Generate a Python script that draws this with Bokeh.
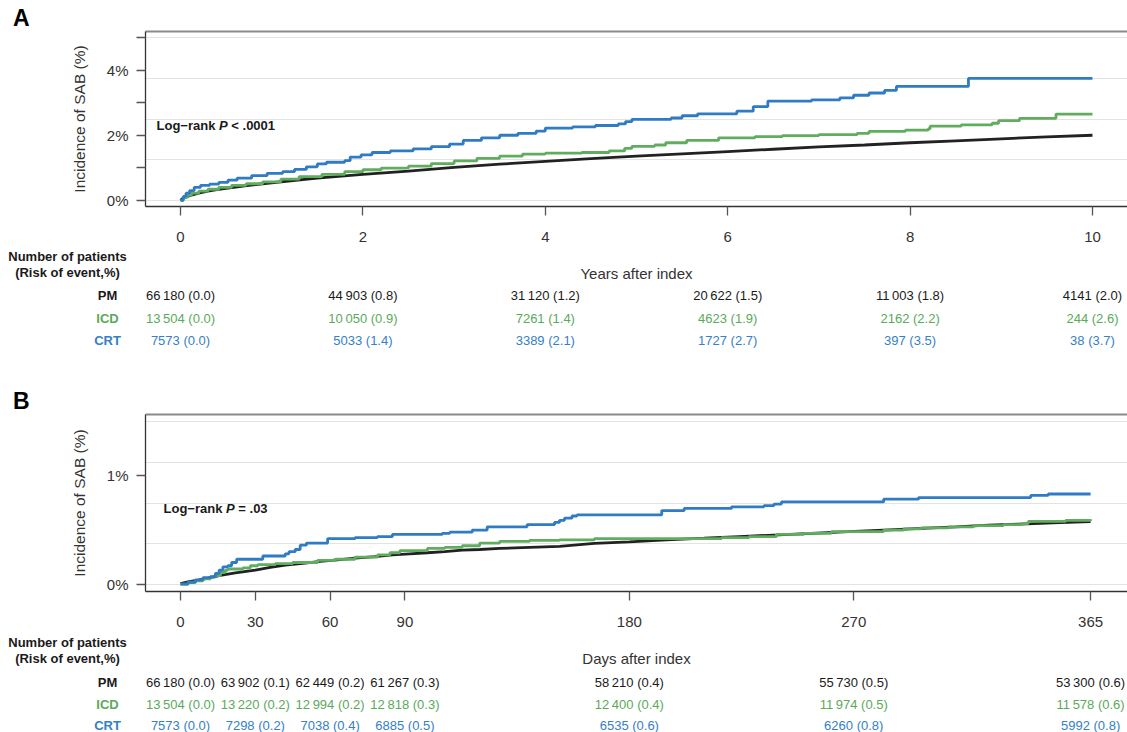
from bokeh.plotting import figure
from bokeh.models import Range1d, LinearAxis, FixedTicker, Label, Grid
from bokeh.layouts import column
from bokeh.embed import file_html
from bokeh.resources import INLINE
from bokeh.core.properties import value

FONT = "Liberation Sans"
GROUPS = ["PM", "ICD", "CRT"]
LINE_COLORS = {"PM": "#222222", "ICD": "#60ad5f", "CRT": "#2f7bc4"}
TEXT_COLORS = {"PM": "#1a1a1a", "ICD": "#5aaa5a", "CRT": "#3580c6"}

# ---------------- Panel A data (years) ----------------
years_ticks = [0, 2, 4, 6, 8, 10]

pm_A_t = [0, 0.02, 0.05, 0.1, 0.15, 0.2, 0.3, 0.4, 0.5, 0.75, 1.0, 1.5, 2.0, 2.5, 3.0,
          3.5, 4.0, 4.5, 5.0, 5.5, 6.0, 6.5, 7.0, 7.5, 8.0, 8.5, 9.0, 9.5, 10.0]
pm_A_v = [0, 0.05, 0.09, 0.14, 0.18, 0.22, 0.28, 0.33, 0.37, 0.46, 0.54, 0.68, 0.80, 0.90, 1.01,
          1.11, 1.20, 1.28, 1.36, 1.43, 1.50, 1.57, 1.64, 1.70, 1.77, 1.83, 1.89, 1.95, 2.00]

icd_A_t = [0, 0.03, 0.07, 0.12, 0.2, 0.3, 0.42, 0.56, 0.72, 0.9, 1.1, 1.3, 1.55, 1.8, 2.0,
           2.2, 2.5, 2.75, 3.0, 3.25, 3.5, 3.75, 4.0, 4.4, 4.7, 4.87, 4.95, 5.2, 5.32, 5.55,
           5.9, 6.3, 6.6, 7.0, 7.42, 7.55, 7.95, 8.2, 8.22, 8.56, 8.9, 8.97, 9.2, 9.6, 10.0]
icd_A_v = [0, 0.08, 0.15, 0.22, 0.28, 0.34, 0.40, 0.46, 0.51, 0.57, 0.65, 0.73, 0.80, 0.88, 0.94,
           0.99, 1.05, 1.13, 1.21, 1.29, 1.36, 1.42, 1.45, 1.47, 1.52, 1.60, 1.66, 1.70, 1.77, 1.84,
           1.92, 1.96, 1.99, 2.02, 2.06, 2.12, 2.16, 2.20, 2.28, 2.32, 2.37, 2.45, 2.52, 2.65, 2.65]

crt_A_t = [0, 0.03, 0.06, 0.1, 0.15, 0.22, 0.32, 0.42, 0.52, 0.62, 0.78, 0.95, 1.12, 1.25, 1.38,
           1.5, 1.6, 1.8, 1.86, 1.98, 2.1, 2.3, 2.55, 2.75, 2.95, 3.1, 3.3, 3.5, 3.7, 3.9,
           4.0, 4.3, 4.55, 4.8, 4.88, 4.95, 5.38, 5.5, 5.67, 6.1, 6.28, 6.44, 6.92, 7.23, 7.38,
           7.55, 7.72, 7.85, 8.64, 10.0]
crt_A_v = [0, 0.12, 0.22, 0.30, 0.40, 0.46, 0.50, 0.55, 0.62, 0.68, 0.76, 0.83, 0.88, 0.95, 1.03,
           1.12, 1.17, 1.22, 1.33, 1.40, 1.47, 1.52, 1.58, 1.65, 1.73, 1.84, 1.92, 2.00, 2.06, 2.13,
           2.22, 2.26, 2.30, 2.35, 2.42, 2.49, 2.53, 2.60, 2.66, 2.74, 2.88, 3.05, 3.09, 3.15, 3.23,
           3.30, 3.38, 3.50, 3.75, 3.75]

risk_A_n = {"PM": [66180, 44903, 31120, 20622, 11003, 4141],
            "ICD": [13504, 10050, 7261, 4623, 2162, 244],
            "CRT": [7573, 5033, 3389, 1727, 397, 38]}
risk_A_p = {"PM": [0.0, 0.8, 1.2, 1.5, 1.8, 2.0],
            "ICD": [0.0, 0.9, 1.4, 1.9, 2.2, 2.6],
            "CRT": [0.0, 1.4, 2.1, 2.7, 3.5, 3.7]}

# ---------------- Panel B data (days) ----------------
days_ticks = [0, 30, 60, 90, 180, 270, 365]

pm_B_t = [0, 3, 7, 11, 16, 22, 30, 36, 42, 50, 56, 63, 70, 78, 85, 92, 99, 106, 113, 120,
          128, 140, 152, 166, 180, 195, 210, 224, 240, 253, 268, 282, 297, 311, 324, 337, 350, 365]
pm_B_v = [0.005, 0.02, 0.037, 0.055, 0.08, 0.105, 0.13, 0.155, 0.175, 0.195, 0.21, 0.225, 0.24,
          0.255, 0.27, 0.28, 0.29, 0.30, 0.315, 0.32, 0.33, 0.34, 0.35, 0.377, 0.39, 0.41, 0.425,
          0.44, 0.455, 0.47, 0.485, 0.50, 0.515, 0.53, 0.545, 0.555, 0.566, 0.577]

icd_B_t = [0, 3, 6, 9, 12, 14, 16, 18, 19, 25, 28, 31, 38, 45, 55, 62, 70, 79, 84, 88, 99,
           106, 113, 120, 128, 140, 152, 166, 217, 228, 239, 250, 261, 282, 290, 297, 308, 318,
           330, 337, 340, 355, 365]
icd_B_v = [0, 0.015, 0.03, 0.05, 0.065, 0.08, 0.11, 0.13, 0.14, 0.15, 0.17, 0.18, 0.19, 0.20,
           0.22, 0.23, 0.25, 0.27, 0.29, 0.31, 0.33, 0.34, 0.355, 0.38, 0.395, 0.405, 0.41, 0.42,
           0.43, 0.44, 0.46, 0.47, 0.485, 0.50, 0.51, 0.52, 0.53, 0.54, 0.55, 0.56, 0.58, 0.59, 0.60]

crt_B_t = [0, 3, 6, 9, 12, 14, 15.5, 17, 19, 20.5, 22.5, 33, 42, 43.5, 46, 48, 50.5, 59, 70,
           79, 85, 105, 108, 117, 123, 139, 150, 152, 154, 157, 159, 193, 202, 221, 234, 238,
           241, 282, 296, 341, 348, 365]
crt_B_v = [0, 0.02, 0.04, 0.06, 0.07, 0.10, 0.13, 0.16, 0.17, 0.20, 0.23, 0.26, 0.28, 0.30,
           0.32, 0.36, 0.38, 0.42, 0.43, 0.44, 0.46, 0.47, 0.48, 0.50, 0.53, 0.55, 0.57, 0.59,
           0.61, 0.63, 0.64, 0.68, 0.70, 0.715, 0.725, 0.74, 0.76, 0.785, 0.80, 0.82, 0.833, 0.833]

risk_B_n = {"PM": [66180, 63902, 62449, 61267, 58210, 55730, 53300],
            "ICD": [13504, 13220, 12994, 12818, 12400, 11974, 11578],
            "CRT": [7573, 7298, 7038, 6885, 6535, 6260, 5992]}
risk_B_p = {"PM": [0.0, 0.1, 0.2, 0.3, 0.4, 0.5, 0.6],
            "ICD": [0.0, 0.2, 0.2, 0.3, 0.4, 0.5, 0.6],
            "CRT": [0.0, 0.2, 0.4, 0.5, 0.6, 0.8, 0.8]}

# ---------------- layout constants ----------------
W = 1127
LEFT = 145
NB = "\u00a0"


def fmt(n, r):
    s = str(n)
    if n >= 10000:
        s = f"{n:,}".replace(",", "\u2009")
    return f"{s} ({r:.1f})"


def base_fig(xr, yr, height, **kw):
    p = figure(width=W, height=height, x_range=Range1d(*xr), y_range=Range1d(*yr),
               output_backend="svg", toolbar_location=None, x_axis_type=None,
               y_axis_type=None, **kw)
    p.outline_line_color = None
    p.background_fill_color = "white"
    p.border_fill_color = "white"
    p.frame_align = False
    return p


def style_axis(ax, tick_out, standoff):
    ax.axis_line_color = "#333333"
    ax.axis_line_width = 1.3
    ax.major_tick_line_color = "#555555"
    ax.major_tick_line_width = 1.3
    ax.major_tick_out = tick_out
    ax.major_tick_in = 0
    ax.minor_tick_line_color = None
    ax.minor_tick_out = 0
    ax.major_label_standoff = standoff
    ax.major_label_text_font = FONT
    ax.major_label_text_font_size = "15px"
    ax.major_label_text_color = "#333333"
    ax.axis_label_text_font = FONT
    ax.axis_label_text_font_size = "15.5px"
    ax.axis_label_text_font_style = "normal"
    ax.axis_label_text_color = "#333333"


def make_plot(xr, yr, frame_h, bottom, xticks, yticks, ylabels, ygrid, curves,
              frame_top_page, lr_page, lr_text):
    top = 1
    height = top + frame_h + bottom
    frame_w = W - LEFT
    p = base_fig(xr, yr, height, min_border_left=LEFT, min_border_right=0,
                 min_border_top=top, min_border_bottom=bottom)

    xa = LinearAxis(ticker=FixedTicker(ticks=xticks))
    style_axis(xa, 9, 16)
    p.add_layout(xa, "below")

    ya = LinearAxis(ticker=FixedTicker(ticks=yticks), major_label_overrides=ylabels,
                    axis_label="Incidence of SAB (%)")
    style_axis(ya, 9, 8)
    ya.axis_label_standoff = 16
    p.add_layout(ya, "left")

    ta = LinearAxis(ticker=FixedTicker(ticks=[]), major_label_text_font_size="0px",
                    major_tick_out=0, major_tick_in=0, minor_tick_out=0, minor_tick_in=0,
                    major_label_standoff=0)
    ta.axis_line_color = "#8a8a8a"
    ta.axis_line_width = 1.8
    ta.major_tick_line_color = None
    ta.minor_tick_line_color = None
    p.add_layout(ta, "above")

    p.add_layout(Grid(dimension=1, ticker=FixedTicker(ticks=ygrid),
                      grid_line_color="#e3e3e3", grid_line_width=1.2))

    for (t, v, g, kind) in curves:
        if kind == "line":
            p.line(t, v, line_color=LINE_COLORS[g], line_width=2.8)
        else:
            p.step(t, v, mode="after", line_color=LINE_COLORS[g], line_width=2.8)

    kx = frame_w / (xr[1] - xr[0])
    ky = frame_h / (yr[1] - yr[0])
    gx = xr[0] + (lr_page[0] - LEFT) / kx
    gy = yr[1] - (lr_page[1] - frame_top_page) / ky
    parts = [("Log\u2212rank", "bold", 0.0), ("P", "bold italic", 62.5),
             (NB + lr_text, "bold", 71.2)]
    for txt, style, off in parts:
        p.add_layout(Label(x=gx, y=gy, x_offset=off, text=txt, text_font=FONT,
                           text_font_size="13px", text_font_style=style, text_color="#1a1a1a",
                           text_baseline="middle", text_align="left"))
    return p


def table_range(xr):
    kx = (W - LEFT) / (xr[1] - xr[0])
    return xr[0] - LEFT / kx, kx


def add_letter(t, px, letter, y):
    t.text(x=[px(12.5)], y=[y], text=[letter], text_font=value(FONT), text_font_size="23px",
           text_font_style="bold", text_color="#000000", text_align="left",
           text_baseline="middle")


def make_table(xr, height, xticks, risk_n, risk_p, xlabel, rows, letter=None):
    tx0, kx = table_range(xr)
    t = base_fig((tx0, xr[1]), (height, 0), height, min_border_left=0, min_border_right=0,
                 min_border_top=0, min_border_bottom=0)

    def px(x):
        return tx0 + x / kx

    y_num, y_risk, y_lab, y_rows = rows
    t.text(x=[px(67)] * 2, y=[y_num, y_risk],
           text=["Number of patients", "(Risk of event,%)"], text_font=value(FONT),
           text_font_size="13px", text_font_style="bold", text_color="#1a1a1a",
           text_align="center", text_baseline="middle")
    t.text(x=[(xr[0] + xr[1]) / 2], y=[y_lab], text=[xlabel], text_font=value(FONT),
           text_font_size="15px", text_color="#333333", text_align="center",
           text_baseline="middle")
    for g, yy in zip(GROUPS, y_rows):
        t.text(x=[px(107)], y=[yy], text=[g], text_font=value(FONT), text_font_size="13px",
               text_font_style="bold", text_color=TEXT_COLORS[g], text_align="center",
               text_baseline="middle")
        labels = [fmt(n, r) for n, r in zip(risk_n[g], risk_p[g])]
        t.text(x=xticks, y=[yy] * len(xticks), text=labels, text_font=value(FONT),
               text_font_size="13px", text_color=TEXT_COLORS[g], text_align="center",
               text_baseline="middle")
    if letter is not None:
        add_letter(t, px, letter[0], letter[1])
    return t


xrA = (-0.384, 10.384)
yrA = (-0.19, 5.19)
xrB = (-14.04, 379.8)
yrB = (-0.068, 1.568)

# header with panel letter A (frame of plot A starts at y=31)
hx0, hkx = table_range(xrA)
hA = base_fig((hx0, xrA[1]), (30, 0), 30, min_border_left=0, min_border_right=0,
              min_border_top=0, min_border_bottom=0)
add_letter(hA, lambda x: hx0 + x / hkx, "A", 17)

pA = make_plot(xrA, yrA, 175, 40, years_ticks, [0, 1, 2, 3, 4, 5],
               {0: "0%", 1: "", 2: "2%", 3: "", 4: "4%", 5: ""},
               [0, 1.25, 2.5, 3.75, 5.0],
               [(pm_A_t, pm_A_v, "PM", "line"), (icd_A_t, icd_A_v, "ICD", "step"),
                (crt_A_t, crt_A_v, "CRT", "step")],
               31, (156, 125), "<" + NB + ".0001")
# pA spans y 30..246
tA = make_table(xrA, 167, years_ticks, risk_A_n, risk_A_p, "Years after index",
                (9.7, 26, 27, [49, 72, 94]), letter=("B", 154))
# tA spans y 246..413
pB = make_plot(xrB, yrB, 177, 38, days_ticks, [0, 1], {0: "0%", 1: "1%"},
               [0, 0.375, 0.75, 1.125, 1.5],
               [(pm_B_t, pm_B_v, "PM", "line"), (icd_B_t, icd_B_v, "ICD", "step"),
                (crt_B_t, crt_B_v, "CRT", "step")],
               414, (163, 507.7), "=" + NB + ".03")
# pB spans y 413..629
tB = make_table(xrB, 103, days_ticks, risk_B_n, risk_B_p, "Days after index",
                (13, 29, 29, [53, 75, 95.5]))

layout = column(hA, pA, tA, pB, tB, spacing=0)
open("out.html", "w").write(file_html(layout, INLINE))
